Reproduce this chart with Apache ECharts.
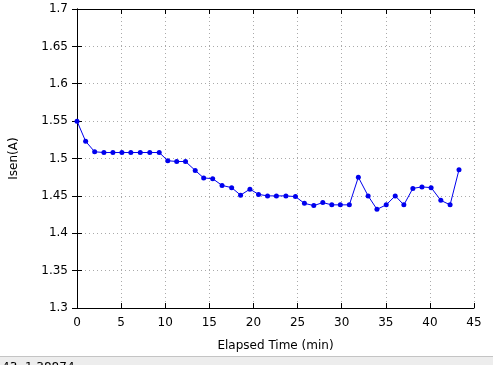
<!DOCTYPE html>
<html>
<head>
<meta charset="utf-8">
<script src="https://cdn.jsdelivr.net/npm/echarts@6/dist/echarts.min.js"></script>
<style>
  html, body { margin: 0; padding: 0; background: #fff; }
  #chart { width: 493px; height: 365px; }
</style>
</head>
<body>
<div id="chart"></div>
<script>
    // elapsed time (min) and measured current
    var times = [0, 0.98, 2.0, 3.05, 4.07, 5.09, 6.1, 7.17, 8.25, 9.32, 10.29, 11.3, 12.3, 13.4,
        14.36, 15.38, 16.44, 17.53, 18.54, 19.6, 20.58, 21.6, 22.6, 23.68, 24.76, 25.78, 26.84,
        27.86, 28.88, 29.85, 30.87, 31.89, 33.0, 34.0, 35.05, 36.07, 37.05, 38.07, 39.1, 40.14,
        41.24, 42.29, 43.3];
    var isen = [1.55, 1.523, 1.509, 1.508, 1.508, 1.508, 1.508, 1.508, 1.508, 1.508, 1.497, 1.496,
        1.496, 1.484, 1.474, 1.473, 1.464, 1.461, 1.451, 1.459, 1.452, 1.450, 1.450, 1.450, 1.449,
        1.440, 1.437, 1.441, 1.438, 1.438, 1.438, 1.475, 1.450, 1.432, 1.438, 1.450, 1.438, 1.460,
        1.462, 1.461, 1.444, 1.438, 1.485];
    var statusText = '43, 1.38874';

    var points = times.map(function (t, i) { return [t, isen[i]]; });

    var font = 'DejaVu Sans';
    var tickStyle = { inside: true, length: 5, lineStyle: { color: '#000' } };
    var lineStyle = { lineStyle: { color: '#000', width: 1 } };

    var myChart = echarts.init(document.getElementById('chart'));
    myChart.setOption({
        animation: false,
        backgroundColor: '#fff',
        grid: { left: 76, right: 19, top: 9, bottom: 57 },
        xAxis: [{
            type: 'value', min: 0, max: 45, interval: 5,
            name: 'Elapsed Time (min)', nameLocation: 'middle', nameGap: 32,
            nameTextStyle: { fontFamily: font, fontSize: 12, color: '#000' },
            axisLine: lineStyle, axisTick: tickStyle,
            axisLabel: { fontFamily: font, fontSize: 12, color: '#000', margin: 9 },
            splitLine: { show: true, lineStyle: { color: '#aaa', type: [1, 3] } }
        }, {
            type: 'value', min: 0, max: 45, interval: 5, position: 'top',
            axisLine: lineStyle, axisTick: tickStyle,
            axisLabel: { show: false }, splitLine: { show: false }
        }],
        yAxis: [{
            type: 'value', min: 1.3, max: 1.7, interval: 0.05,
            name: 'Isen(A)', nameLocation: 'middle', nameGap: 57, nameRotate: 90,
            nameTextStyle: { fontFamily: font, fontSize: 12, color: '#000' },
            axisLine: lineStyle, axisTick: tickStyle,
            axisLabel: {
                fontFamily: font, fontSize: 12, color: '#000', margin: 9,
                formatter: function (v) { return String(+v.toFixed(2)); }
            },
            splitLine: { show: true, lineStyle: { color: '#aaa', type: [1, 3] } }
        }, {
            type: 'value', min: 1.3, max: 1.7, interval: 0.05, position: 'right',
            axisLine: lineStyle, axisTick: tickStyle,
            axisLabel: { show: false }, splitLine: { show: false }
        }],
        graphic: [
            { type: 'rect', left: 0, top: 357, shape: { width: 493, height: 8 },
              style: { fill: '#ededed' }, z: 10 },
            { type: 'rect', left: 0, top: 356, shape: { width: 493, height: 1 },
              style: { fill: '#c4c4c4' }, z: 10 },
            { type: 'text', left: 2, top: 362, z: 11,
              style: { text: statusText, font: '12px DejaVu Sans', fill: '#000' } }
        ],
        series: [{
            type: 'line',
            data: points,
            symbol: 'circle',
            symbolSize: 5,
            itemStyle: { color: '#0000ee' },
            lineStyle: { color: '#0000ee', width: 1 }
        }]
    });
</script>
</body>
</html>
